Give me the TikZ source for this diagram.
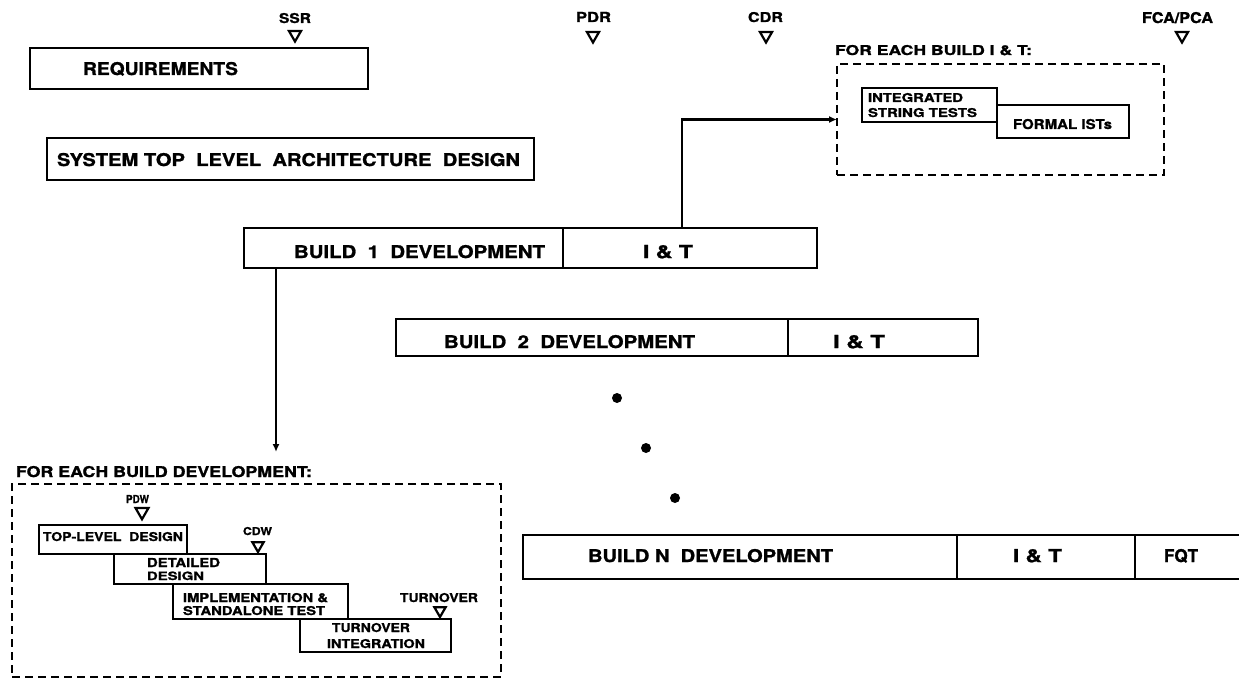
\documentclass[tikz,border=0pt]{standalone}
\usepackage{fontspec}
\usepackage{graphicx}
\setmainfont{TeX Gyre Heros}[BoldFeatures={FakeBold=1.2}]
\usetikzlibrary{arrows.meta,shapes.geometric}
\newcommand{\tx}[3]{\resizebox{#1pt}{#2pt}{\bfseries #3}}
\newcommand{\mybox}[6][box]{\node[#1, anchor=north west, minimum width={#5-#3}, minimum height={#6-#4}] (#2) at (#3,#4) {};}
\tikzset{
  box/.style={draw, line width=2.6pt, inner sep=0pt, outer sep=0pt},
  sbox/.style={draw, line width=2.2pt, inner sep=0pt, outer sep=0pt},
  dbox/.style={draw, line width=2.2pt, dash pattern=on 8pt off 5pt, inner sep=0pt, outer sep=0pt},
  txt/.style={inner sep=0pt, outer sep=0pt, anchor=base west},
  tri/.style={draw, line width=2.2pt, regular polygon, regular polygon sides=3, shape border rotate=180, inner sep=0pt, minimum size=#1},
  tri/.default=14pt,
  conn/.style={line width=2.4pt},
  arr/.style={-{Latex[length=8pt,width=7pt]}},
  dot/.style={circle, fill, inner sep=0pt, minimum size=10pt},
  edge/.style={line width=2.6pt}
}
\begin{document}
\begin{tikzpicture}[x=1pt,y=-1pt]
\useasboundingbox (0,0) rectangle (1239,679);

% milestones on top
\node[txt] (ssr) at (279,23) {\tx{32}{10}{SSR}};
\node[tri] (tssr) at (295,34.5) {};
\node[txt] (pdr) at (576,22) {\tx{35}{10}{PDR}};
\node[tri] (tpdr) at (593,35.5) {};
\node[txt] (cdr) at (748,22) {\tx{35}{10}{CDR}};
\node[tri] (tcdr) at (766,35.5) {};
\node[txt] (fca) at (1142,23) {\tx{71}{11}{FCA/PCA}};
\node[tri] (tfca) at (1182,35.5) {};

% requirements and architecture
\mybox{req}{30}{48}{368}{89}
\node[txt] (reqt) at (83,75) {\tx{155}{13}{REQUIREMENTS}};
\mybox{sys}{47}{138}{534}{180}
\node[txt] (syst) at (57,166) {\tx{463}{13}{SYSTEM TOP\ \ LEVEL\ \ ARCHITECTURE\ \ DESIGN}};

% build 1
\mybox{b1dev}{244}{228}{563}{268}
\mybox{b1it}{563}{228}{817}{268}
\node[txt] (b1t) at (294,258) {\tx{251}{13}{BUILD\ \ 1\ \ DEVELOPMENT}};
\node[txt] (b1itt) at (643,258) {\tx{50}{13}{I \& T}};

% build 2
\mybox{b2dev}{396}{319}{788}{356}
\mybox{b2it}{788}{319}{978}{356}
\node[txt] (b2t) at (444,348) {\tx{251}{13}{BUILD\ \ 2\ \ DEVELOPMENT}};
\node[txt] (b2itt) at (833,348) {\tx{52}{13}{I \& T}};

% dots
\node[dot] (d1) at (617,398) {};
\node[dot] (d2) at (646,448) {};
\node[dot] (d3) at (675,498) {};

% build N
\mybox{bndev}{523}{535}{957}{579}
\mybox{bnit}{957}{535}{1135}{579}
\coordinate (fqtne) at (1239,535);
\coordinate (fqtse) at (1239,579);
\draw[edge] (bnit.north east) -- (fqtne);
\draw[edge] (bnit.south east) -- (fqtse);
\node[txt] (bnt) at (588,562) {\tx{245}{13}{BUILD N\ \ DEVELOPMENT}};
\node[txt] (bnitt) at (1013,562) {\tx{49}{13}{I \& T}};
\node[txt] (fqt) at (1164,562) {\tx{34}{13}{FQT}};

% I&T detail
\node[txt] (itlab) at (835,55) {\tx{197}{10}{FOR EACH BUILD I \& T:}};
\mybox[dbox]{itbox}{837}{64}{1164}{175}
\mybox[sbox]{ist}{862}{88}{997}{122}
\node[txt] (ist1) at (868,102) {\tx{95}{9}{INTEGRATED}};
\node[txt] (ist2) at (868,117) {\tx{109}{9}{STRING TESTS}};
\mybox[sbox]{fist}{997}{105}{1129}{138}
\node[txt] (fistt) at (1013,129) {\tx{99}{10}{FORMAL ISTs}};

% development detail
\node[txt] (devlab) at (16,477) {\tx{296}{11}{FOR EACH BUILD DEVELOPMENT:}};
\mybox[dbox]{devbox}{12}{484}{501}{677}
\node[txt] (pdw) at (126,503) {\tx{23}{8}{PDW}};
\node[tri=15pt] (tpdw) at (142,511.75) {};
\mybox[sbox]{tld}{39}{525}{187}{554}
\node[txt] (tldt) at (43,541) {\tx{140}{9}{TOP-LEVEL\ \ DESIGN}};
\node[txt] (cdw) at (243,535) {\tx{29}{8}{CDW}};
\node[tri=13pt] (tcdw) at (258,545.5) {};
\mybox[sbox]{det}{114}{554}{266}{584}
\node[txt] (det1) at (147,567) {\tx{73}{9}{DETAILED}};
\node[txt] (det2) at (147,580) {\tx{57}{8.5}{DESIGN}};
\mybox[sbox]{impl}{173}{584}{348}{619}
\node[txt] (impl1) at (183,602) {\tx{145}{9}{IMPLEMENTATION \&}};
\node[txt] (impl2) at (183,615) {\tx{142}{9}{STANDALONE TEST}};
\node[txt] (turn) at (400,602) {\tx{78}{9}{TURNOVER}};
\node[tri=13pt] (tturn) at (440,610.5) {};
\mybox[sbox]{tint}{300}{619}{451}{652}
\node[txt] (tint1) at (332,632) {\tx{78}{9}{TURNOVER}};
\node[txt] (tint2) at (327,648) {\tx{98}{9}{INTEGRATION}};

% connectors
\coordinate (up) at (682,0);
\draw[conn,arr] (b1it.north -| up) |- (itbox.west);
\coordinate (devtip) at (276,452);
\draw[conn,arr] (b1dev.south -| devtip) -- (devtip);
\end{tikzpicture}
\end{document}
